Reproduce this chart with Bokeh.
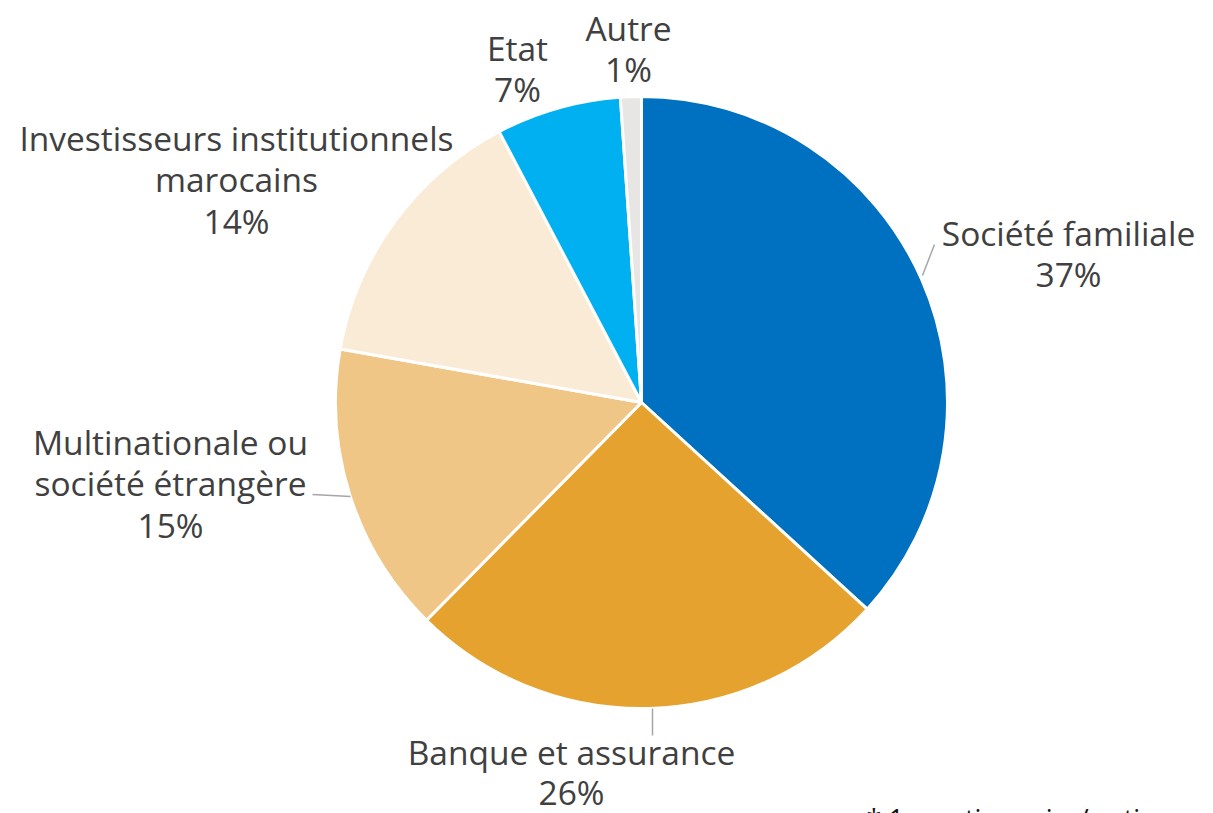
import math
from bokeh.plotting import figure
from bokeh.models import Range1d, ColumnDataSource
from bokeh.core.properties import value
from bokeh.embed import file_html
from bokeh.resources import INLINE

# ---- data ----
categories = ["Société familiale", "Banque et assurance", "Multinationale ou société étrangère",
              "Investisseurs institutionnels marocains", "Etat", "Autre"]
shares = [36.8, 25.6, 15.4, 14.5, 6.6, 1.1]
pct_labels = ["37%", "26%", "15%", "14%", "7%", "1%"]
label_lines = [["Société familiale"], ["Banque et assurance"],
               ["Multinationale ou", "société étrangère"],
               ["Investisseurs institutionnels", "marocains"], ["Etat"], ["Autre"]]
colors = ["#0070C0", "#E5A22E", "#F0C686", "#FAEBD7", "#00B0F0", "#E7E6E4"]
footnote = "* 1er actionnaire/ actionnariat"

# ---- layout (screen px -> data: x = px, y = 813 - px) ----
W, H = 1213, 813
def Y(py):
    return H - py

cx, cy, R = 641, Y(402), 306
label_anchor = [(1068, 232), (571, 751), (170, 441), (236, 137), (517, 47), (628, 27)]
line_h = [41.5, 40.0, 41.5, 41.5, 41.5, 41.5]
leaders = [((922, 275), (934, 244)), ((652, 708), (652, 735)), ((312, 494), (350, 496))]

p = figure(width=W, height=H, x_range=Range1d(0, W), y_range=Range1d(0, H),
           output_backend="svg", toolbar_location=None, min_border=0)
p.axis.visible = False
p.grid.visible = False
p.outline_line_color = None
p.background_fill_color = "white"
p.border_fill_color = "white"

total = float(sum(shares))
starts, ends = [], []
cum = 0.0
for s in shares:
    starts.append(math.pi / 2 - 2 * math.pi * cum / total)
    cum += s
    ends.append(math.pi / 2 - 2 * math.pi * cum / total)

src = ColumnDataSource(dict(start=starts, end=ends, color=colors, cat=categories))
p.wedge(x=cx, y=cy, radius=R, start_angle="start", end_angle="end", direction="clock",
        fill_color="color", line_color="white", line_width=3, source=src)

# leader lines
for (a, b) in leaders:
    p.line([a[0], b[0]], [Y(a[1]), Y(b[1])], line_color="#A6A6A6", line_width=1.5)

# labels
tx, ty, tt = [], [], []
for lines, pct, (ax, ay), lh in zip(label_lines, pct_labels, label_anchor, line_h):
    allines = lines + [pct]
    for i, t in enumerate(allines):
        tx.append(ax)
        ty.append(Y(ay + i * lh))
        tt.append(t)
p.text(x=tx, y=ty, text=tt, text_align="center", text_baseline="middle",
       text_font=value("Open Sans"), text_font_size="33.5px", text_color="#404040")

p.text(x=[866], y=[Y(818)], text=[footnote], text_align="left", text_baseline="middle",
       text_font=value("Open Sans"), text_font_size="27px", text_color="#111111")

html = file_html(p, INLINE)
html = html.replace("<head>", "<head><style>html,body{overflow:hidden;}</style>", 1)
open("out.html", "w").write(html)
